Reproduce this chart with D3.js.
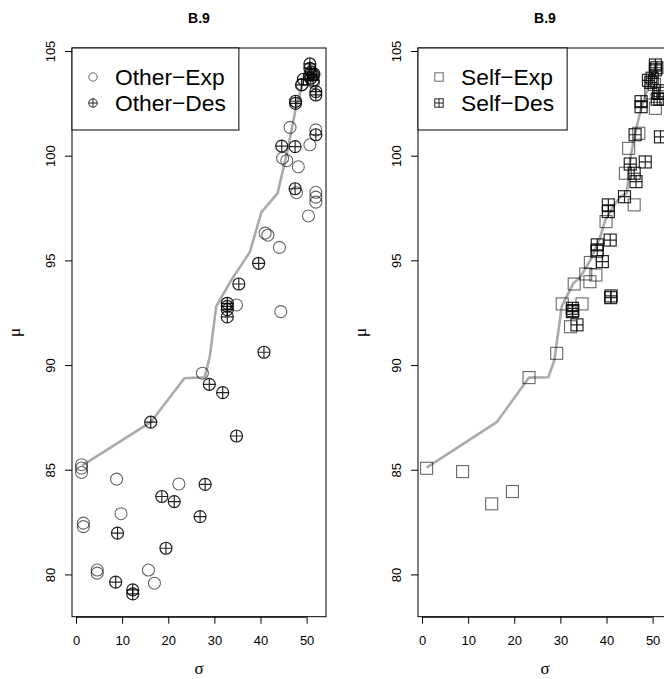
<!DOCTYPE html>
<html>
<head>
<meta charset="utf-8">
<script src="https://cdn.jsdelivr.net/npm/d3@7"></script>
<style>
  html, body { margin: 0; padding: 0; background: #fff; overflow: hidden; }
  svg { display: block; }
  text { font-family: "Liberation Sans", Arial, Helvetica, sans-serif; fill: #000; }
</style>
</head>
<body>
<svg id="chart" width="664" height="679"></svg>
<script>
// ---- data: [sigma, mu] pairs per group ----
const otherExp = [
  [1.2,85.24],[1.2,85.08],[1.2,84.87],[1.6,82.45],[1.6,82.28],
  [8.8,84.55],[9.75,82.9],[4.6,80.21],[4.6,80.06],
  [22.3,84.32],[15.7,80.21],[17.0,79.58],
  [27.4,89.61],[34.8,92.87],[44.4,92.55],
  [46.4,101.35],[52.0,101.23],[50.7,100.52],
  [44.8,99.88],[45.7,99.76],[48.2,99.47],[47.8,98.23],
  [52.0,98.25],[52.0,98.02],[52.0,97.78],[50.4,97.12],
  [41.0,96.3],[41.6,96.2],[44.1,95.62],
  [49.0,103.4],[50.8,103.9],[51.5,103.5]
];
const otherDes = [
  [39.6,94.86],[35.3,93.87],
  [32.8,92.95],[32.8,92.8],[32.8,92.65],[32.8,92.3],
  [40.75,90.61],[28.9,89.08],[31.8,88.68],[16.2,87.27],[34.8,86.61],
  [28.0,84.3],[18.6,83.72],[21.3,83.48],[26.9,82.76],[9.0,81.97],
  [19.5,81.25],[8.6,79.63],[12.3,79.26],[12.3,79.07],
  [44.6,100.46],[47.5,100.43],[47.5,98.42],
  [47.6,102.6],[47.6,102.5],
  [52.0,102.9],[52.0,101.0],[52.0,103.06],
  [50.7,104.38],[50.7,104.17],[51.4,103.85],[51.4,103.6],[49.3,103.65],
  [48.9,103.38],[51.0,104.0],[51.6,103.9],[50.9,103.7]
];
const otherLine = [
  [1.3,85.2],[16.2,87.27],[23.5,89.37],[27.9,89.42],[29.0,90.4],[30.4,92.8],
  [33.5,94.0],[35.6,94.7],[37.7,95.4],[40.2,97.3],[43.7,98.2],[45.9,100.3],
  [47.6,102.2],[49.3,103.6],[50.7,104.4]
];

const selfExp = [
  [1.0,85.07],[8.8,84.91],[15.1,83.37],[19.6,83.96],
  [23.2,89.4],[29.2,90.56],[30.4,92.92],[34.7,92.92],[32.2,91.83],
  [33.0,93.87],[35.5,94.35],[37.7,94.3],[36.4,93.98],[36.5,94.9],[37.9,95.42],
  [39.9,96.85],[46.0,97.65],[44.8,100.35],[44.1,99.16],[50.6,102.26],[47.0,101.07],
  [49.6,103.0],[50.4,103.4]
];
const selfDes = [
  [32.6,92.71],[32.6,92.55],[32.7,92.6],[33.6,91.92],[39.1,94.94],[40.9,93.22],[41.0,93.3],
  [40.4,97.65],[40.4,97.33],[40.8,95.97],[38.0,95.74],[38.0,95.5],
  [43.9,98.04],[45.15,99.6],[48.4,99.7],[46.2,101.0],[46.0,99.16],[46.4,98.76],
  [47.5,102.58],[47.5,102.34],[51.7,100.9],
  [50.6,104.1],[50.6,104.33],[49.9,103.7],[49.1,103.6],[51.3,102.98],[51.0,102.7],
  [50.9,104.2],[49.6,103.5],[51.6,102.7],[51.6,103.1]
];
const selfLine = [
  [1.0,85.1],[16.2,87.27],[23.2,89.4],[27.4,89.42],[28.7,90.24],[30.3,92.8],
  [32.8,93.9],[34.3,94.2],[36.5,95.0],[38.6,96.1],[39.7,96.9],[41.2,97.5],
  [43.0,98.04],[44.4,98.2],[45.2,99.9],[45.9,100.75],[47.3,102.1],[49.5,103.6],[50.6,104.3]
];

const xTicks = [0, 10, 20, 30, 40, 50];
const yTicks = [80, 85, 90, 95, 100, 105];
const panelTitle = "B.9";
const xLabel = "σ";
const yLabel = "μ";

// ---- layout ----
const panelW = 346;
const plot = { left: 72, top: 48, width: 254, height: 568.7 };
const xDomain = [-0.87, 54.2];
const yDomain = [77.98, 105.143];

const svg = d3.select("#chart");

function drawPanel(offsetX, expData, desData, lineData, shape, labels) {
  const g = svg.append("g").attr("transform", `translate(${offsetX},0)`);
  const x = d3.scaleLinear().domain(xDomain).range([plot.left, plot.left + plot.width]);
  const y = d3.scaleLinear().domain(yDomain).range([plot.top + plot.height, plot.top]);

  const clipId = "clip" + offsetX;
  g.append("clipPath").attr("id", clipId).append("rect")
    .attr("x", plot.left).attr("y", plot.top).attr("width", plot.width).attr("height", plot.height);

  // title
  g.append("text").attr("x", plot.left + plot.width / 2).attr("y", 23)
    .attr("text-anchor", "middle").attr("font-weight", "bold").attr("font-size", 14)
    .text(panelTitle);

  // axes
  const xAxis = d3.axisBottom(x).tickValues(xTicks).tickSize(7).tickPadding(12);
  const gx = g.append("g").attr("transform", `translate(0,${plot.top + plot.height})`).call(xAxis);
  gx.selectAll("text").attr("font-size", 13).attr("font-family", "Liberation Sans, Arial, sans-serif");
  gx.select(".domain").attr("d", `M${x(0)},0.5H${x(50)}`).attr("stroke", "#000");

  const yAxis = d3.axisLeft(y).tickValues(yTicks).tickSize(7).tickFormat(d3.format("d"));
  const gy = g.append("g").attr("transform", `translate(${plot.left},0)`).call(yAxis);
  gy.select(".domain").remove();
  gy.selectAll(".tick text")
    .attr("font-size", 13).attr("font-family", "Liberation Sans, Arial, sans-serif")
    .attr("text-anchor", "middle").attr("x", null).attr("dy", null)
    .attr("transform", "translate(-17,0) rotate(-90)");

  // axis titles
  g.append("text").attr("x", plot.left + plot.width / 2).attr("y", plot.top + plot.height + 57)
    .attr("text-anchor", "middle").attr("font-size", 17)
    .style("font-family", "'Liberation Serif', 'DejaVu Serif', serif").text(xLabel);
  g.append("text").attr("transform", `translate(${plot.left - 52},${plot.top + plot.height / 2}) rotate(-90)`)
    .attr("text-anchor", "middle").attr("font-size", 17)
    .style("font-family", "'Liberation Serif', 'DejaVu Serif', serif").text(yLabel);

  const body = g.append("g").attr("clip-path", `url(#${clipId})`);

  // frontier line
  body.append("path").datum(lineData)
    .attr("fill", "none").attr("stroke", "#aaaaaa").attr("stroke-width", 2.6)
    .attr("stroke-linejoin", "round")
    .attr("d", d3.line().x(d => x(d[0])).y(d => y(d[1])));

  // markers
  const r = 6;
  function marker(sel, withCross, size) {
    if (shape === "circle") {
      sel.append("circle").attr("r", size).attr("fill", "none");
    } else {
      sel.append("rect").attr("x", -size).attr("y", -size)
        .attr("width", 2 * size).attr("height", 2 * size).attr("fill", "none");
    }
    if (withCross) {
      sel.append("path").attr("fill", "none")
        .attr("d", `M${-size},0H${size}M0,${-size}V${size}`);
    }
  }

  body.append("g").selectAll("g").data(expData).join("g")
    .attr("transform", d => `translate(${x(d[0])},${y(d[1])})`)
    .attr("stroke", "#000").attr("stroke-opacity", 0.6).attr("stroke-width", 1.1)
    .each(function () { marker(d3.select(this), false, r); });

  body.append("g").selectAll("g").data(desData).join("g")
    .attr("transform", d => `translate(${x(d[0])},${y(d[1])})`)
    .attr("stroke", "#000").attr("stroke-opacity", 0.85).attr("stroke-width", 1.2)
    .each(function () { marker(d3.select(this), true, r); });

  // plot frame
  g.append("rect").attr("x", plot.left).attr("y", plot.top)
    .attr("width", plot.width).attr("height", plot.height)
    .attr("fill", "none").attr("stroke", "#000").attr("stroke-width", 1);

  // legend
  const lg = g.append("g");
  const rows = [plot.top + 29, plot.top + 55];
  const texts = rows.map((ry, i) => lg.append("text")
    .attr("x", plot.left + 43).attr("y", ry + 8).attr("font-size", 22.8).text(labels[i]));
  const maxW = d3.max(texts, t => t.node().getComputedTextLength());
  lg.insert("rect", ":first-child").attr("x", plot.left).attr("y", plot.top)
    .attr("width", 43 + maxW + 13).attr("height", 82)
    .attr("fill", "#fff").attr("stroke", "#000").attr("stroke-width", 1);
  rows.forEach((ry, i) => {
    const m = lg.append("g").attr("transform", `translate(${plot.left + 21},${ry})`)
      .attr("stroke", "#000").attr("stroke-opacity", i === 0 ? 0.6 : 0.85).attr("stroke-width", 1);
    marker(m, i === 1, 4.2);
  });
}

drawPanel(0, otherExp, otherDes, otherLine, "circle", ["Other\u2212Exp", "Other\u2212Des"]);
drawPanel(panelW, selfExp, selfDes, selfLine, "square", ["Self\u2212Exp", "Self\u2212Des"]);
</script>
</body>
</html>
